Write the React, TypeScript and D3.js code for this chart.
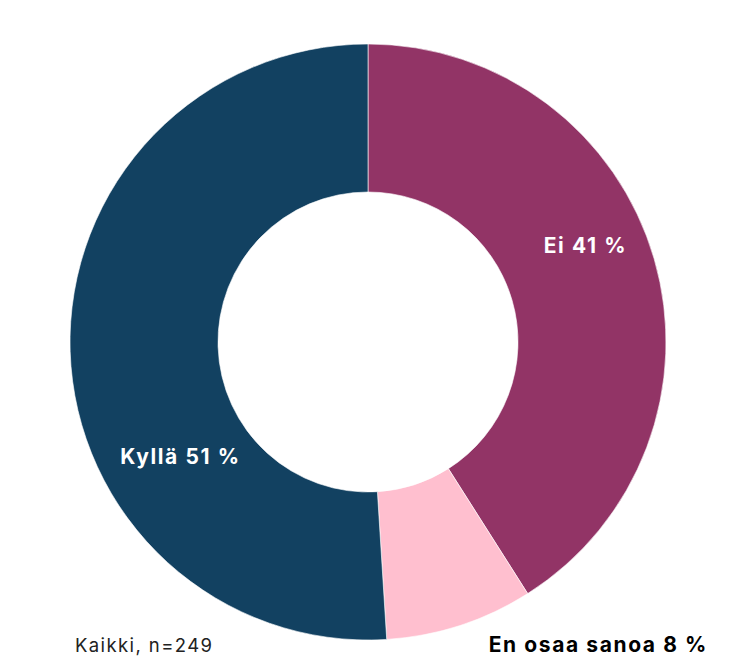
import React from "react";
import * as d3 from "d3";

const categories = ["Ei", "En osaa sanoa", "Kyllä"];
const values = [41, 8, 51];
const colors = ["#923466", "#FFBFCF", "#124161"];
const note = "Kaikki, n=249";

const W = 731;
const H = 668;
const cx = 368;
const cy = 342;
const outerR = 298;
const innerR = 150;
const FONT = "Inter, 'Open Sans', sans-serif";

export default function App() {
  const pie = d3.pie<number>().sort(null).value((d) => d);
  const arcs = pie(values);
  const arc = d3.arc<d3.PieArcDatum<number>>().innerRadius(innerR).outerRadius(outerR);

  const polar = (deg: number, r: number) => {
    const a = (deg * Math.PI) / 180;
    return [cx + r * Math.sin(a), cy - r * Math.cos(a)];
  };
  const [eiX, eiY] = polar(66, 238);
  const [kyX, kyY] = polar(238.5, 220);

  return (
    <svg width={W} height={H} style={{ position: "absolute", left: 0, top: 0 }}>
      <rect width={W} height={H} fill="#fff" />
      <g transform={`translate(${cx},${cy})`}>
        {arcs.map((a, i) => (
          <path key={i} d={arc(a) as string} fill={colors[i]} stroke="#fff" strokeWidth={0.6} />
        ))}
      </g>
      <text x={eiX} y={eiY} textAnchor="middle" dominantBaseline="central" fill="#fff"
        fontFamily={FONT} fontWeight={700} fontSize={21} letterSpacing={1.6}>
        {`${categories[0]} ${values[0]} %`}
      </text>
      <text x={kyX} y={kyY} textAnchor="middle" dominantBaseline="central" fill="#fff"
        fontFamily={FONT} fontWeight={700} fontSize={21} letterSpacing={1.6}>
        {`${categories[2]} ${values[2]} %`}
      </text>
      <text x={708} y={652} textAnchor="end" fill="#000"
        fontFamily={FONT} fontWeight={700} fontSize={21} letterSpacing={1.6}>
        {`${categories[1]} ${values[1]} %`}
      </text>
      <text x={75} y={652} textAnchor="start" fill="#222"
        fontFamily={FONT} fontWeight={400} fontSize={18.5} letterSpacing={1.4}>
        {note}
      </text>
    </svg>
  );
}
